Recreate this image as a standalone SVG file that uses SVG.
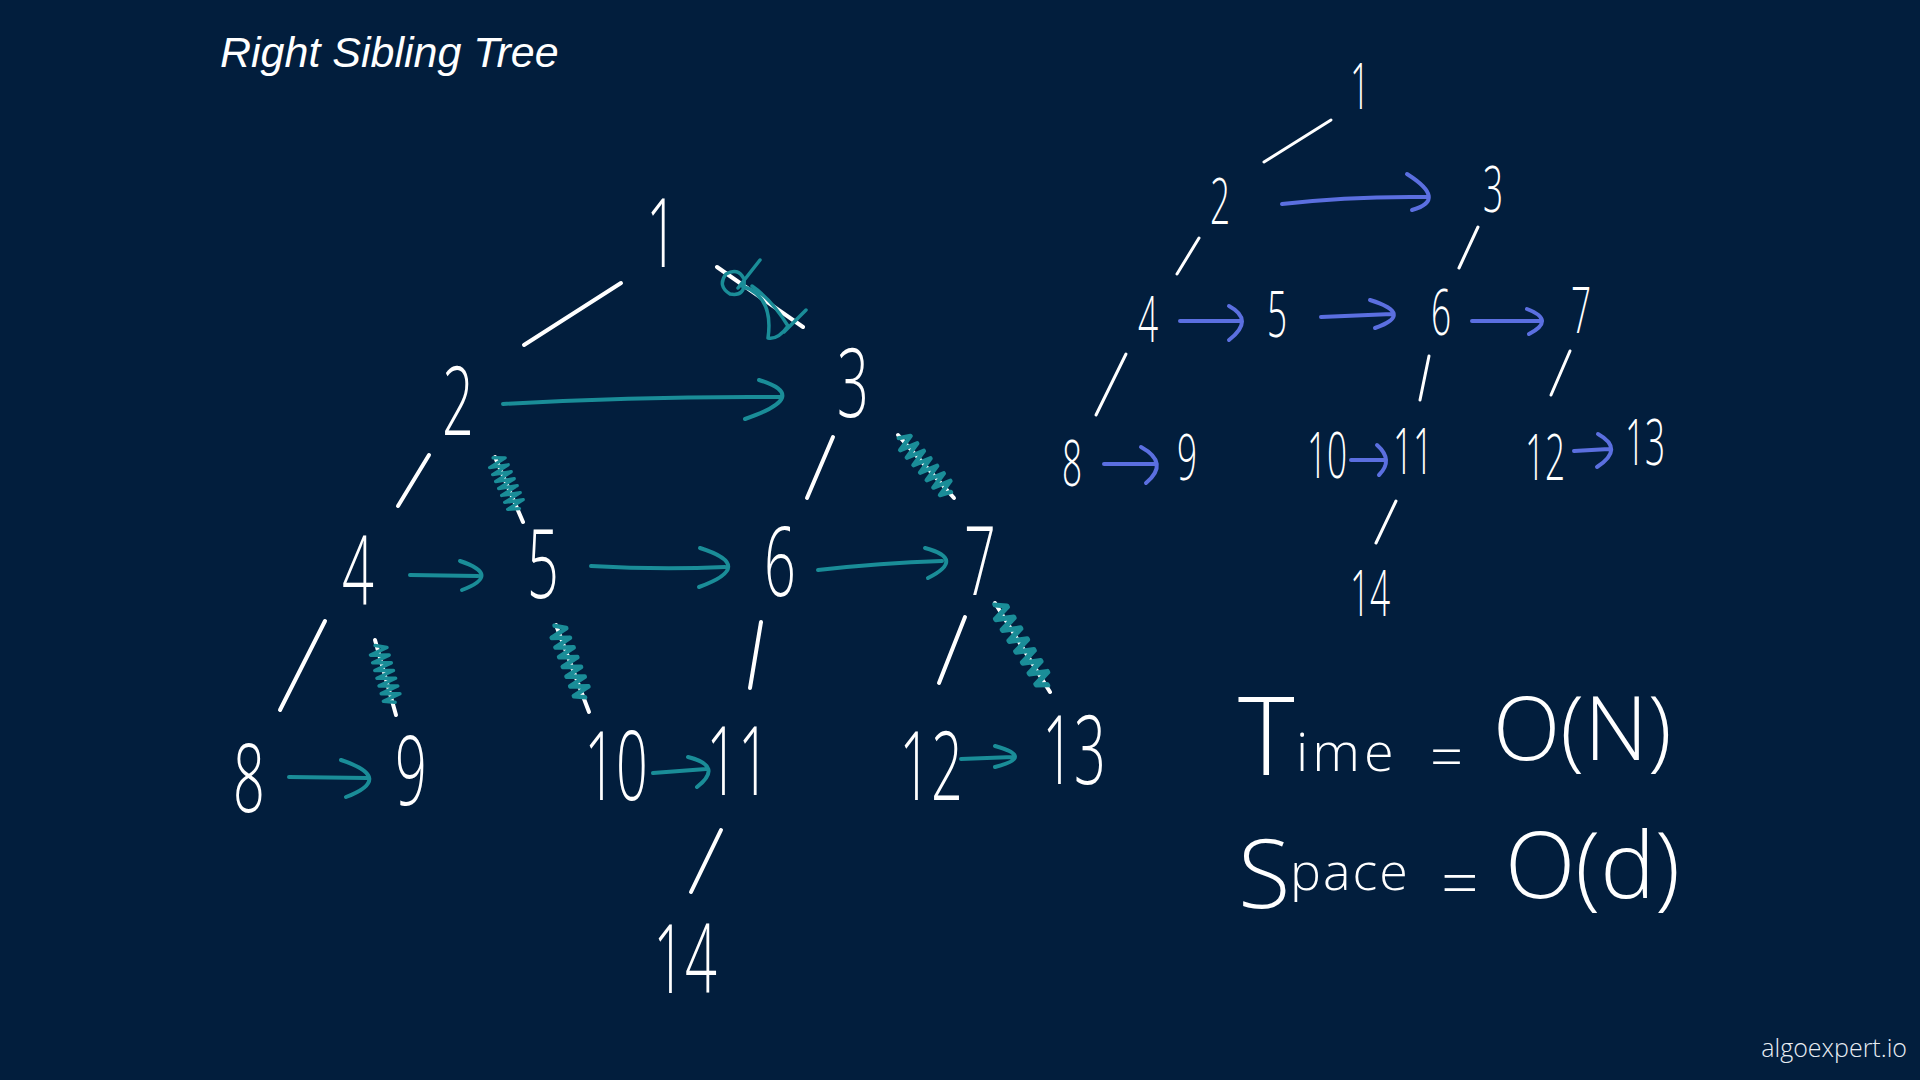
<svg xmlns="http://www.w3.org/2000/svg" xmlns:xlink="http://www.w3.org/1999/xlink" width="1920" height="1080" viewBox="0 0 1920 1080">
<style>
  .bg{fill:#021e3d}
  .title{font-family:"Liberation Sans",Arial,sans-serif;font-style:italic;font-size:43px;fill:#ffffff}
  .brand{font-family:"Open Sans","Liberation Sans",sans-serif;font-weight:300;font-size:25px;fill:#e8edf3}
  .hw{font-family:"Open Sans","Liberation Sans",sans-serif;font-weight:300;fill:#ffffff;text-anchor:middle}
  .lg{font-size:96px;transform:scaleX(0.58)}
  .sm{font-size:64px;transform:scaleX(0.55)}
  .cx{font-family:"Open Sans","Liberation Sans",sans-serif;font-weight:300;fill:#ffffff}
  .edge{stroke:#ffffff;stroke-width:4;stroke-linecap:round;fill:none}
  .edge2{stroke:#ffffff;stroke-width:3;stroke-linecap:round;fill:none}
  .ta{stroke:#1a8d98;stroke-width:4;stroke-linecap:round;stroke-linejoin:round;fill:none}
  .ba{stroke:#5b6fe0;stroke-width:4;stroke-linecap:round;stroke-linejoin:round;fill:none}
  .scr{stroke:#1a8d98;stroke-width:3.5;stroke-linecap:round;stroke-linejoin:round;fill:none}
</style>
<defs>
  <path id="zz" d="M0,2 L5,-9 L8,9 L13,-9 L16,9 L21,-9 L24,9 L29,-9 L32,9 L37,-9 L40,9 L45,-9 L48,9 L53,-9 L56,9 L60,-2"/>
</defs>
<rect class="bg" x="0" y="0" width="1920" height="1080"/>

<text class="title" x="220" y="67">Right Sibling Tree</text>
<text class="brand" x="1907" y="1057" text-anchor="end">algoexpert.io</text>

<g id="connectors">
  <!-- left tree edges -->
  <line class="edge" x1="621" y1="283" x2="524" y2="345"/>
  <line class="edge" x1="717" y1="267" x2="803" y2="327"/>
  <line class="edge" x1="429" y1="455" x2="398" y2="506"/>
  <line class="edge" x1="495" y1="457" x2="523" y2="522"/>
  <line class="edge" x1="833" y1="437" x2="807" y2="498"/>
  <line class="edge" x1="898" y1="435" x2="954" y2="498"/>
  <line class="edge" x1="325" y1="621" x2="280" y2="710"/>
  <line class="edge" x1="375" y1="640" x2="396" y2="715"/>
  <line class="edge" x1="556" y1="625" x2="589" y2="712"/>
  <line class="edge" x1="761" y1="622" x2="750" y2="688"/>
  <line class="edge" x1="965" y1="617" x2="939" y2="683"/>
  <line class="edge" x1="995" y1="603" x2="1050" y2="692"/>
  <line class="edge" x1="721" y1="830" x2="691" y2="892"/>
  <!-- scribbles over removed edges -->
  <path class="scr" d="M726,274 q-9,12 4,20 q16,3 14,-15 q-6,-12 -18,-5 M738,288 L760,260 M742,286 Q774,296 768,338 Q778,340 788,326 Q772,300 752,286 M784,332 L806,310"/>
  <use class="scr" xlink:href="#zz" href="#zz" transform="translate(495,457) rotate(66.7) scale(0.95,1)"/>
  <use class="scr" xlink:href="#zz" href="#zz" transform="translate(900,437) rotate(48.4) scale(1.25,1)"/>
  <use class="scr" xlink:href="#zz" href="#zz" transform="translate(377,645) rotate(74.4) scale(1.0,1)"/>
  <use class="scr" xlink:href="#zz" href="#zz" transform="translate(556,625) rotate(69.2) scale(1.3,1)"/>
  <use class="scr" xlink:href="#zz" href="#zz" transform="translate(996,604) rotate(58.3) scale(1.6,1)"/>
  <!-- left tree sibling arrows -->
  <path class="ta" d="M503,404 Q640,396 780,397 M759,380 Q812,396 745,419"/>
  <path class="ta" d="M410,575 L478,576 M460,561 Q502,575 462,590"/>
  <path class="ta" d="M591,566 Q660,570 725,567 M700,548 Q757,566 699,587"/>
  <path class="ta" d="M818,570 Q880,563 942,561 M925,548 Q966,559 928,578"/>
  <path class="ta" d="M289,777 L367,778 M341,760 Q395,778 346,797"/>
  <path class="ta" d="M653,773 L706,769 M688,757 Q724,766 697,787"/>
  <path class="ta" d="M961,759 L1013,757 M995,746 Q1035,757 995,767"/>
  <!-- right tree edges -->
  <line class="edge2" x1="1331" y1="120" x2="1264" y2="162"/>
  <line class="edge2" x1="1199" y1="238" x2="1177" y2="274"/>
  <line class="edge2" x1="1478" y1="227" x2="1459" y2="268"/>
  <line class="edge2" x1="1126" y1="354" x2="1096" y2="415"/>
  <line class="edge2" x1="1429" y1="356" x2="1420" y2="400"/>
  <line class="edge2" x1="1570" y1="351" x2="1551" y2="395"/>
  <line class="edge2" x1="1396" y1="501" x2="1376" y2="543"/>
  <!-- right tree sibling arrows -->
  <path class="ba" d="M1282,204 Q1350,196 1427,197 M1407,174 Q1448,200 1412,210"/>
  <path class="ba" d="M1180,321 L1240,321 M1229,306 Q1255,320 1229,340"/>
  <path class="ba" d="M1321,317 L1392,314 M1370,300 Q1415,314 1375,328"/>
  <path class="ba" d="M1472,321 L1540,321 M1527,309 Q1556,320 1529,334"/>
  <path class="ba" d="M1104,464 L1155,464 M1141,447 Q1170,463 1146,483"/>
  <path class="ba" d="M1351,460 L1384,460 M1377,445 Q1394,460 1379,475"/>
  <path class="ba" d="M1574,451 L1609,449 M1598,434 Q1625,449 1597,467"/>
</g>

<!-- left tree nodes -->
<g id="L1" transform="translate(662,267)"><text class="hw lg">1</text></g>
<g id="L2" transform="translate(458,435)"><text class="hw lg">2</text></g>
<g id="L3" transform="translate(853,417)"><text class="hw lg">3</text></g>
<g id="L4" transform="translate(358,605)"><text class="hw lg">4</text></g>
<g id="L5" transform="translate(543,598)"><text class="hw lg">5</text></g>
<g id="L6" transform="translate(780,596)"><text class="hw lg">6</text></g>
<g id="L7" transform="translate(980,595)"><text class="hw lg">7</text></g>
<g id="L8" transform="translate(249,812)"><text class="hw lg">8</text></g>
<g id="L9" transform="translate(411,805)"><text class="hw lg">9</text></g>
<g id="L10" transform="translate(616,800)"><text class="hw lg">10</text></g>
<g id="L11" transform="translate(738,795)"><text class="hw lg">11</text></g>
<g id="L12" transform="translate(931,800)"><text class="hw lg">12</text></g>
<g id="L13" transform="translate(1074,784)"><text class="hw lg">13</text></g>
<g id="L14" transform="translate(685,993)"><text class="hw lg">14</text></g>

<!-- right tree nodes -->
<g id="R1" transform="translate(1360,109)"><text class="hw sm">1</text></g>
<g id="R2" transform="translate(1220,224)"><text class="hw sm">2</text></g>
<g id="R3" transform="translate(1493,212)"><text class="hw sm">3</text></g>
<g id="R4" transform="translate(1148,342)"><text class="hw sm">4</text></g>
<g id="R5" transform="translate(1277,337)"><text class="hw sm">5</text></g>
<g id="R6" transform="translate(1441,335)"><text class="hw sm">6</text></g>
<g id="R7" transform="translate(1581,333)"><text class="hw sm">7</text></g>
<g id="R8" transform="translate(1072,486)"><text class="hw sm">8</text></g>
<g id="R9" transform="translate(1187,480)"><text class="hw sm">9</text></g>
<g id="R10" transform="translate(1327,478)"><text class="hw sm">10</text></g>
<g id="R11" transform="translate(1413,474)"><text class="hw sm">11</text></g>
<g id="R12" transform="translate(1545,480)"><text class="hw sm">12</text></g>
<g id="R13" transform="translate(1645,465)"><text class="hw sm">13</text></g>
<g id="R14" transform="translate(1370,616)"><text class="hw sm">14</text></g>

<!-- complexity -->
<g id="complexity">
  <text class="cx"><tspan x="1238" y="775" font-size="108">T</tspan><tspan x="1296" y="771" font-size="54" letter-spacing="4">ime</tspan><tspan x="1430" y="778" font-size="58">=</tspan><tspan x="1493" y="760" font-size="88">O(N)</tspan></text>
  <text class="cx"><tspan x="1238" y="908" font-size="96">S</tspan><tspan x="1290" y="890" font-size="52" letter-spacing="2">pace</tspan><tspan x="1441" y="906" font-size="66">=</tspan><tspan x="1505" y="898" font-size="92">O(d)</tspan></text>
</g>
</svg>
